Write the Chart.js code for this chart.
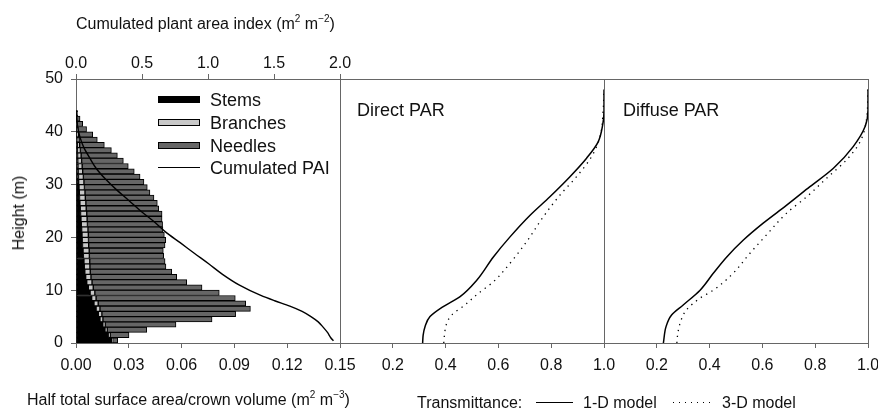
<!DOCTYPE html>
<html>
<head>
<meta charset="utf-8">
<script src="https://cdn.jsdelivr.net/npm/chart.js@4.4.1/dist/chart.umd.min.js"></script>
<style>
  body { margin: 0; background: #fff; font-family: 'Liberation Sans', Arial, sans-serif; color: #111; }
  #wrap { position: relative; width: 878px; height: 412px; overflow: hidden; }
  #wrap canvas { position: absolute; left: 0; top: 0; }
  .txt { position: absolute; white-space: nowrap; font-size: 16px; line-height: 1; }
  .txt sup { font-size: 10px; vertical-align: 7px; line-height: 0; }
  .big { font-size: 18px; }
  .sw { position: absolute; left: 158px; width: 40px; height: 5px; border: 1px solid #000; }
  .ln { position: absolute; height: 0; border-top: 1.4px solid #000; }
  .dot { position: absolute; height: 1.3px; background: repeating-linear-gradient(to right, #000 0 1.3px, transparent 1.3px 6px); }
</style>
</head>
<body>
<div id="wrap">
  <canvas id="c1" width="878" height="412"></canvas>
  <canvas id="c2" width="878" height="412"></canvas>
  <canvas id="c3" width="878" height="412"></canvas>

  <div class="txt" style="left:76px; top:16px;">Cumulated plant area index (m<sup>2</sup> m<sup>−2</sup>)</div>
  <div class="txt" style="left:19px; top:213px; transform: translate(-50%,-50%) rotate(-90deg);">Height (m)</div>
  <div class="txt" style="left:27px; top:392px;">Half total surface area/crown volume (m<sup>2</sup> m<sup>−3</sup>)</div>

  <div class="txt" style="left:417px; top:395px;">Transmittance:</div>
  <div class="ln" style="left:536px; top:402px; width:37px;"></div>
  <div class="txt" style="left:583px; top:395px;">1-D model</div>
  <div class="dot" style="left:673px; top:402px; width:38px;"></div>
  <div class="txt" style="left:722px; top:395px;">3-D model</div>

  <div class="sw" style="top:96px; background:#000;"></div>
  <div class="txt big" style="left:210px; top:91px;">Stems</div>
  <div class="sw" style="top:119px; background:#c8c8c8;"></div>
  <div class="txt big" style="left:210px; top:114px;">Branches</div>
  <div class="sw" style="top:142px; background:#666;"></div>
  <div class="txt big" style="left:210px; top:137px;">Needles</div>
  <div class="ln" style="left:158px; top:167px; width:42px;"></div>
  <div class="txt big" style="left:210px; top:159px;">Cumulated PAI</div>

  <div class="txt big" style="left:357px; top:101px;">Direct PAR</div>
  <div class="txt big" style="left:623px; top:101px;">Diffuse PAR</div>
</div>
<script>
// 1 m layers, mid heights (m)
const layerMid = [0.5, 1.5, 2.5, 3.5, 4.5, 5.5, 6.5, 7.5, 8.5, 9.5,
  10.5, 11.5, 12.5, 13.5, 14.5, 15.5, 16.5, 17.5, 18.5, 19.5,
  20.5, 21.5, 22.5, 23.5, 24.5, 25.5, 26.5, 27.5, 28.5, 29.5,
  30.5, 31.5, 32.5, 33.5, 34.5, 35.5, 36.5, 37.5, 38.5, 39.5,
  40.5, 41.5, 42.5, 43.5];

// half total surface area / crown volume (m2 m-3)
const stems = [0.0203, 0.0184, 0.0165, 0.0152, 0.0136, 0.0127, 0.0114, 0.0102, 0.0089, 0.0080,
  0.0070, 0.0061, 0.0055, 0.0050, 0.0047, 0.0045, 0.0042, 0.0040, 0.0037, 0.0035,
  0.0034, 0.0032, 0.0030, 0.0028, 0.0026, 0.0024, 0.0022, 0.0020, 0.0019, 0.0017,
  0.0015, 0.0014, 0.0012, 0.0011, 0.0010, 0.0009, 0.0008, 0.0007, 0.0006, 0.0005,
  0.0004, 0.0003, 0.0002, 0.0001];
const branches = [0.0005, 0.0010, 0.0012, 0.0015, 0.0017, 0.0020, 0.0022, 0.0024, 0.0025, 0.0027,
  0.0028, 0.0030, 0.0030, 0.0031, 0.0032, 0.0033, 0.0034, 0.0035, 0.0035, 0.0036,
  0.0036, 0.0036, 0.0035, 0.0035, 0.0035, 0.0034, 0.0034, 0.0033, 0.0032, 0.0031,
  0.0030, 0.0028, 0.0026, 0.0024, 0.0022, 0.0020, 0.0017, 0.0014, 0.0011, 0.0008,
  0.0006, 0.0004, 0.0002, 0.0001];
const needles = [0.0029, 0.0107, 0.0225, 0.0401, 0.0620, 0.0760, 0.0855, 0.0838, 0.0791, 0.0707,
  0.0618, 0.0538, 0.0487, 0.0463, 0.0432, 0.0428, 0.0422, 0.0421, 0.0434, 0.0439,
  0.0432, 0.0426, 0.0427, 0.0426, 0.0428, 0.0412, 0.0406, 0.0390, 0.0369, 0.0357,
  0.0341, 0.0322, 0.0293, 0.0262, 0.0237, 0.0206, 0.0176, 0.0140, 0.0104, 0.0082,
  0.0050, 0.0031, 0.0019, 0.0008];

// cumulated plant area index (top axis)
const paiHeight = [0.4, 1, 2, 3, 4, 5, 6, 7, 8, 9, 11, 13, 15, 17, 19, 21, 23, 25, 27, 29, 31, 33, 35, 37, 39, 41, 43, 44];
const paiValue = [1.95, 1.93, 1.905, 1.872, 1.835, 1.78, 1.713, 1.62, 1.505, 1.40, 1.235, 1.11, 1.005, 0.896, 0.789, 0.68, 0.59, 0.49, 0.40, 0.308, 0.225, 0.155, 0.105, 0.06, 0.03, 0.012, 0.003, 0];

// transmittance, direct PAR
const directH1 = [0, 1.5, 3.1, 5.0, 6.9, 8.8, 11.9, 16.3, 20.1, 24.2, 27.7, 31.5, 35.0, 38.1, 41.3, 44, 48];
const direct1D = [0.313, 0.315, 0.322, 0.341, 0.391, 0.455, 0.518, 0.581, 0.644, 0.72, 0.795, 0.871, 0.934, 0.978, 0.995, 1.0, 1.0];
const directH3 = [0, 1.2, 3.7, 5.3, 7.2, 9.4, 11.6, 15.1, 19.2, 23.9, 28.0, 31.5, 35.3, 39.1, 44.1, 48];
const direct3D = [0.393, 0.395, 0.404, 0.423, 0.473, 0.524, 0.581, 0.644, 0.707, 0.77, 0.833, 0.896, 0.953, 0.985, 0.997, 1.0];

// transmittance, diffuse PAR
const diffuseH1 = [0, 3.1, 5.3, 7.2, 10.0, 13.2, 16.3, 19.5, 22.7, 26.1, 29.6, 33.1, 37.2, 41.0, 44.1, 48];
const diffuse1D = [0.225, 0.235, 0.256, 0.30, 0.364, 0.414, 0.465, 0.528, 0.603, 0.692, 0.78, 0.869, 0.944, 0.989, 1.0, 1.0];
const diffuseH3 = [0, 1.2, 3.7, 6.3, 8.5, 10.0, 12.9, 17.0, 20.5, 24.6, 27.7, 31.2, 34.7, 38.1, 42.6, 48];
const diffuse3D = [0.276, 0.278, 0.288, 0.313, 0.364, 0.414, 0.483, 0.553, 0.616, 0.692, 0.768, 0.843, 0.919, 0.97, 0.995, 1.0];

const heightTicks = [0, 50, 10];      // min, max, step
const surfaceTicks = [0, 0.15, 0.03];
const paiTicks = [0, 2, 0.5];
const transTicks = [0, 1, 0.2];

Chart.defaults.font.family = "'Liberation Sans', Arial, sans-serif";
Chart.defaults.font.size = 16;
Chart.defaults.color = '#111';

function pts(xs, ys) {
  return xs.map((v, i) => ({ x: v, y: ys[i] }));
}

// plain gray box around each panel
const framePlugin = {
  id: 'frame',
  beforeDatasetsDraw(chart) {
    const a = chart.chartArea, ctx = chart.ctx;
    ctx.save();
    ctx.strokeStyle = '#666';
    ctx.lineWidth = 1;
    ctx.strokeRect(a.left + 0.5, a.top + 0.5, a.right - a.left, a.bottom - a.top);
    ctx.restore();
  }
};

const tickGrid = { drawOnChartArea: false, drawTicks: true, tickLength: 5, color: '#666' };
const fixH = (h) => (s) => { s.height = h; s.paddingLeft = 0; s.paddingRight = 0; };
const fixW = (w) => (s) => { s.width = w; s.paddingTop = 0; s.paddingBottom = 0; };

// panel 1: surface area profile + cumulated PAI
const barStyle = { borderColor: '#000', borderWidth: 1, borderSkipped: false, stack: 'a', order: 1,
  barPercentage: 1, categoryPercentage: 1, xAxisID: 'x', yAxisID: 'y' };

new Chart(document.getElementById('c1'), {
  type: 'bar',
  data: {
    datasets: [
      Object.assign({ label: 'Stems', data: pts(stems, layerMid), backgroundColor: '#000' }, barStyle),
      Object.assign({ label: 'Branches', data: pts(branches, layerMid), backgroundColor: '#c8c8c8' }, barStyle),
      Object.assign({ label: 'Needles', data: pts(needles, layerMid), backgroundColor: '#666' }, barStyle),
      {
        type: 'line', label: 'Cumulated PAI', data: pts(paiValue, paiHeight), order: 0,
        indexAxis: 'y', xAxisID: 'x2', yAxisID: 'y',
        borderColor: '#000', borderWidth: 1.4, pointRadius: 0, fill: false,
        cubicInterpolationMode: 'monotone'
      }
    ]
  },
  options: {
    indexAxis: 'y',
    responsive: false,
    animation: false,
    layout: { padding: { left: 0, right: 538, top: 0, bottom: 0 } },
    plugins: { legend: { display: false }, tooltip: { enabled: false } },
    scales: {
      y: {
        type: 'linear', min: heightTicks[0], max: heightTicks[1], offset: false,
        ticks: { stepSize: heightTicks[2], padding: 8 },
        grid: Object.assign({ offset: false }, tickGrid), border: { display: false },
        afterFit: fixW(76)
      },
      x: {
        type: 'linear', position: 'bottom', stacked: true,
        min: surfaceTicks[0], max: surfaceTicks[1],
        ticks: { stepSize: surfaceTicks[2], padding: 8, callback: (v) => v.toFixed(2) },
        grid: tickGrid, border: { display: false },
        afterFit: fixH(69)
      },
      x2: {
        type: 'linear', position: 'top', min: paiTicks[0], max: paiTicks[1],
        ticks: { stepSize: paiTicks[2], padding: 1, callback: (v) => v.toFixed(1) },
        grid: tickGrid, border: { display: false },
        afterFit: fixH(79)
      }
    }
  },
  plugins: [framePlugin]
});

// panels 2 and 3: transmittance profiles
function transPanel(id, left, h1, t1, h3, t3) {
  new Chart(document.getElementById(id), {
    type: 'line',
    data: {
      datasets: [
        { label: '1-D model', data: pts(t1, h1), borderColor: '#000', borderWidth: 1.5,
          pointRadius: 0, cubicInterpolationMode: 'monotone' },
        { label: '3-D model', data: pts(t3, h3), borderColor: '#000', borderWidth: 1.3,
          borderDash: [1.3, 4.7], pointRadius: 0, cubicInterpolationMode: 'monotone' }
      ]
    },
    options: {
      indexAxis: 'y',
      responsive: false,
      animation: false,
      layout: { padding: { left: left, right: 878 - left - 264, top: 79, bottom: 0 } },
      plugins: { legend: { display: false }, tooltip: { enabled: false } },
      scales: {
        x: {
          type: 'linear', position: 'bottom', min: transTicks[0], max: transTicks[1],
          ticks: { stepSize: transTicks[2], padding: 8, callback: (v) => v === 0 ? '' : v.toFixed(1) },
          grid: tickGrid, border: { display: false },
          afterFit: fixH(69)
        },
        y: { type: 'linear', min: heightTicks[0], max: heightTicks[1], display: false }
      }
    },
    plugins: [framePlugin]
  });
}

transPanel('c2', 340, directH1, direct1D, directH3, direct3D);
transPanel('c3', 604, diffuseH1, diffuse1D, diffuseH3, diffuse3D);
</script>
</body>
</html>
